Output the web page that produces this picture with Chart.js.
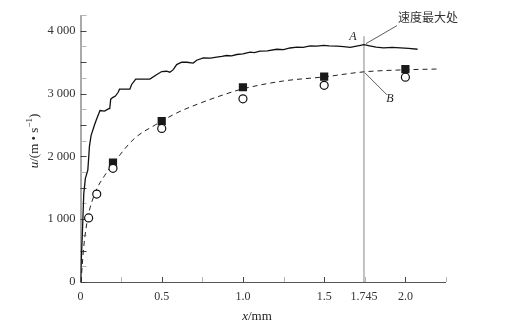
<!DOCTYPE html>
<html>
<head>
<meta charset="utf-8">
<script src="https://cdn.jsdelivr.net/npm/chart.js@4/dist/chart.umd.min.js"></script>
<style>
  html, body { margin: 0; padding: 0; background: #fff; }
  #wrap { width: 514px; height: 326px; }
</style>
</head>
<body>
<div id="wrap"><canvas id="c" width="514" height="326"></canvas></div>
<script>
// Curve A: measured velocity history (solid)
const curveAx = [0, 0.004, 0.012, 0.02, 0.03, 0.045, 0.051, 0.055, 0.065, 0.086, 0.1, 0.12, 0.148, 0.174, 0.18, 0.186,
  0.2, 0.215, 0.232, 0.24, 0.304, 0.314, 0.34, 0.427, 0.468, 0.5, 0.53, 0.55, 0.571, 0.592, 0.623, 0.654, 0.694,
  0.715, 0.756, 0.8, 0.838, 0.87, 0.9, 0.93, 0.962, 1.0, 1.044, 1.07, 1.105, 1.15, 1.208, 1.25, 1.29, 1.332, 1.37,
  1.414, 1.455, 1.496, 1.53, 1.578, 1.62, 1.66, 1.7, 1.745, 1.78, 1.82, 1.866, 1.92, 1.969, 2.02, 2.075];
const curveAu = [0, 300, 800, 1400, 1650, 1780, 2000, 2160, 2330, 2500, 2600, 2730, 2720, 2760, 2760, 2910,
  2940, 2960, 3020, 3070, 3070, 3140, 3230, 3230, 3300, 3350, 3355, 3340, 3380, 3460, 3498, 3498, 3485,
  3530, 3569, 3565, 3578, 3590, 3605, 3598, 3621, 3630, 3658, 3650, 3674, 3680, 3705, 3700, 3725, 3740, 3735,
  3760, 3754, 3768, 3760, 3756, 3745, 3735, 3755, 3778, 3760, 3740, 3728, 3735, 3728, 3720, 3705];

// Curve B: fitted velocity (dashed)
const curveBx = [0.003, 0.02, 0.045, 0.09, 0.15, 0.2, 0.33, 0.46, 0.6, 0.74, 0.88, 1.0, 1.25, 1.5, 1.745, 2.0, 2.2];
const curveBu = [0, 560, 1020, 1420, 1700, 1880, 2280, 2500, 2700, 2850, 2980, 3075, 3200, 3265, 3345, 3378, 3390];

// Filled squares
const squareX = [0.2, 0.5, 1.0, 1.5, 2.0];
const squareU = [1900, 2560, 3100, 3270, 3390];

// Open circles
const circleX = [0.05, 0.1, 0.2, 0.5, 1.0, 1.5, 2.0];
const circleU = [1020, 1400, 1810, 2445, 2915, 3130, 3260];

// Axis ticks
const xTickValues = [0, 0.5, 1.0, 1.5, 1.745, 2.0];
const xTickLabels = ['0', '0.5', '1.0', '1.5', '1.745', '2.0'];
const yTickValues = [0, 1000, 2000, 3000, 4000];
const yTickLabels = ['0', '1 000', '2 000', '3 000', '4 000'];

// Position of maximum velocity
const peakX = 1.745;
const peakAu = 3778;
const peakBu = 3345;
const peakLineTop = 3910;

const pts = (xs, ys) => xs.map((x, i) => ({ x: x, y: ys[i] }));

const SERIF = '"Liberation Serif", "DejaVu Serif", serif';

// Inward ticks, axis lines, the marker line at x = 1.745 and the annotations
const decorations = {
  id: 'decorations',
  beforeDatasetsDraw(chart) {
    const { ctx, chartArea: a, scales: { x, y } } = chart;
    ctx.save();
    // vertical line at the velocity peak
    const px = x.getPixelForValue(peakX);
    ctx.strokeStyle = '#9a9a9a';
    ctx.lineWidth = 1.2;
    ctx.beginPath();
    ctx.moveTo(px, y.getPixelForValue(peakLineTop));
    ctx.lineTo(px, a.bottom);
    ctx.stroke();

    // axes
    ctx.strokeStyle = '#555';
    ctx.lineWidth = 1;
    ctx.beginPath();
    ctx.moveTo(a.left + 0.5, a.top);
    ctx.lineTo(a.left + 0.5, a.bottom + 0.5);
    ctx.lineTo(a.right, a.bottom + 0.5);
    ctx.stroke();

    // x ticks every 0.25, pointing up into the plot
    for (let i = 0; i <= 9; i++) {
      const v = i * 0.25;
      const tx = Math.round(x.getPixelForValue(v)) + 0.5;
      ctx.strokeStyle = (i % 2 === 0) ? '#444' : '#b5b5b5';
      ctx.beginPath();
      ctx.moveTo(tx, a.bottom);
      ctx.lineTo(tx, a.bottom - 5);
      ctx.stroke();
    }
    // y ticks every 250, pointing right into the plot
    for (let i = 0; i <= 17; i++) {
      const v = i * 250;
      const ty = Math.round(y.getPixelForValue(v)) + 0.5;
      ctx.strokeStyle = (i % 2 === 0) ? '#444' : '#b5b5b5';
      ctx.beginPath();
      ctx.moveTo(a.left, ty);
      ctx.lineTo(a.left + 6, ty);
      ctx.stroke();
    }
    ctx.restore();
  },
  afterDatasetsDraw(chart) {
    const { ctx, scales: { x, y } } = chart;
    ctx.save();
    const px = x.getPixelForValue(peakX);
    const pA = y.getPixelForValue(peakAu);
    const pB = y.getPixelForValue(peakBu);

    // leader lines
    ctx.strokeStyle = '#333';
    ctx.lineWidth = 0.8;
    ctx.beginPath();
    ctx.moveTo(px + 2, pA - 1);
    ctx.lineTo(px + 33, pA - 19);
    ctx.moveTo(px + 1, pB + 1);
    ctx.lineTo(px + 23, pB + 23);
    ctx.stroke();

    // labels A and B
    ctx.fillStyle = '#222';
    ctx.font = 'italic 12px ' + SERIF;
    ctx.textAlign = 'center';
    ctx.textBaseline = 'middle';
    ctx.fillText('A', px - 11, pA - 8);
    ctx.fillText('B', px + 26, pB + 27);

    ctx.font = '12px "Noto Sans CJK SC", sans-serif';
    ctx.textAlign = 'left';
    ctx.fillStyle = '#333';
    ctx.fillText('速度最大处', px + 34, pA - 27);

    // x axis title
    ctx.fillStyle = '#222';
    ctx.textBaseline = 'middle';
    ctx.textAlign = 'left';
    const xt1 = 'x', xt2 = '/mm';
    ctx.font = 'italic 13px ' + SERIF;
    const w1 = ctx.measureText(xt1).width;
    ctx.font = '13px ' + SERIF;
    const w2 = ctx.measureText(xt2).width;
    let sx = 257 - (w1 + w2) / 2;
    ctx.font = 'italic 13px ' + SERIF;
    ctx.fillText(xt1, sx, 317);
    ctx.font = '13px ' + SERIF;
    ctx.fillText(xt2, sx + w1, 317);

    // y axis title, rotated
    const parts = [
      { t: 'u', f: 'italic 13px ' + SERIF, dy: 0 },
      { t: '/(m \u2022 s', f: '13px ' + SERIF, dy: 0 },
      { t: '\u22121', f: '9px ' + SERIF, dy: -5 },
      { t: ')', f: '13px ' + SERIF, dy: 0 }
    ];
    let total = 0;
    parts.forEach(p => { ctx.font = p.f; p.w = ctx.measureText(p.t).width; total += p.w; });
    ctx.translate(35, 141);
    ctx.rotate(-Math.PI / 2);
    let cx = -total / 2;
    parts.forEach(p => {
      ctx.font = p.f;
      ctx.fillText(p.t, cx, p.dy);
      cx += p.w;
    });
    ctx.restore();
  }
};

new Chart(document.getElementById('c'), {
  type: 'scatter',
  data: {
    datasets: [
      {
        label: 'A',
        data: pts(curveAx, curveAu),
        showLine: true,
        borderColor: '#111',
        borderWidth: 1.3,
        pointRadius: 0,
        tension: 0,
        order: 3
      },
      {
        label: 'B',
        data: pts(curveBx, curveBu),
        showLine: true,
        borderColor: '#222',
        borderWidth: 1,
        borderDash: [5, 4],
        pointRadius: 0,
        cubicInterpolationMode: 'monotone',
        order: 2
      },
      {
        label: 'squares',
        data: pts(squareX, squareU),
        pointStyle: 'rect',
        pointRadius: 5.8,
        backgroundColor: '#1a1a1a',
        borderColor: '#1a1a1a',
        borderWidth: 0,
        order: 1
      },
      {
        label: 'circles',
        data: pts(circleX, circleU),
        pointStyle: 'circle',
        pointRadius: 4,
        backgroundColor: '#fff',
        borderColor: '#111',
        borderWidth: 1.2,
        order: 0
      }
    ]
  },
  options: {
    responsive: false,
    animation: false,
    events: [],
    layout: { padding: { top: 15, right: 68, left: 0, bottom: 0 } },
    plugins: {
      legend: { display: false },
      tooltip: { enabled: false },
      title: { display: false }
    },
    scales: {
      x: {
        type: 'linear',
        min: 0,
        max: 2.25,
        grid: { display: false, drawTicks: false },
        border: { display: false },
        afterBuildTicks(scale) {
          scale.ticks = xTickValues.map(v => ({ value: v }));
        },
        afterFit(scale) { scale.height = 44; },
        ticks: {
          autoSkip: false,
          maxRotation: 0,
          padding: 8,
          color: '#333',
          font: { family: SERIF, size: 12 },
          callback(value) {
            const i = xTickValues.indexOf(value);
            return i >= 0 ? xTickLabels[i] : '';
          }
        }
      },
      y: {
        type: 'linear',
        min: 0,
        max: 4250,
        grid: { display: false, drawTicks: false },
        border: { display: false },
        afterBuildTicks(scale) {
          scale.ticks = yTickValues.map(v => ({ value: v }));
        },
        afterFit(scale) { scale.width = 80.5; },
        ticks: {
          autoSkip: false,
          padding: 5,
          color: '#333',
          font: { family: SERIF, size: 12.5 },
          callback(value) {
            const i = yTickValues.indexOf(value);
            return i >= 0 ? yTickLabels[i] : '';
          }
        }
      }
    }
  },
  plugins: [decorations]
});
</script>
</body>
</html>
